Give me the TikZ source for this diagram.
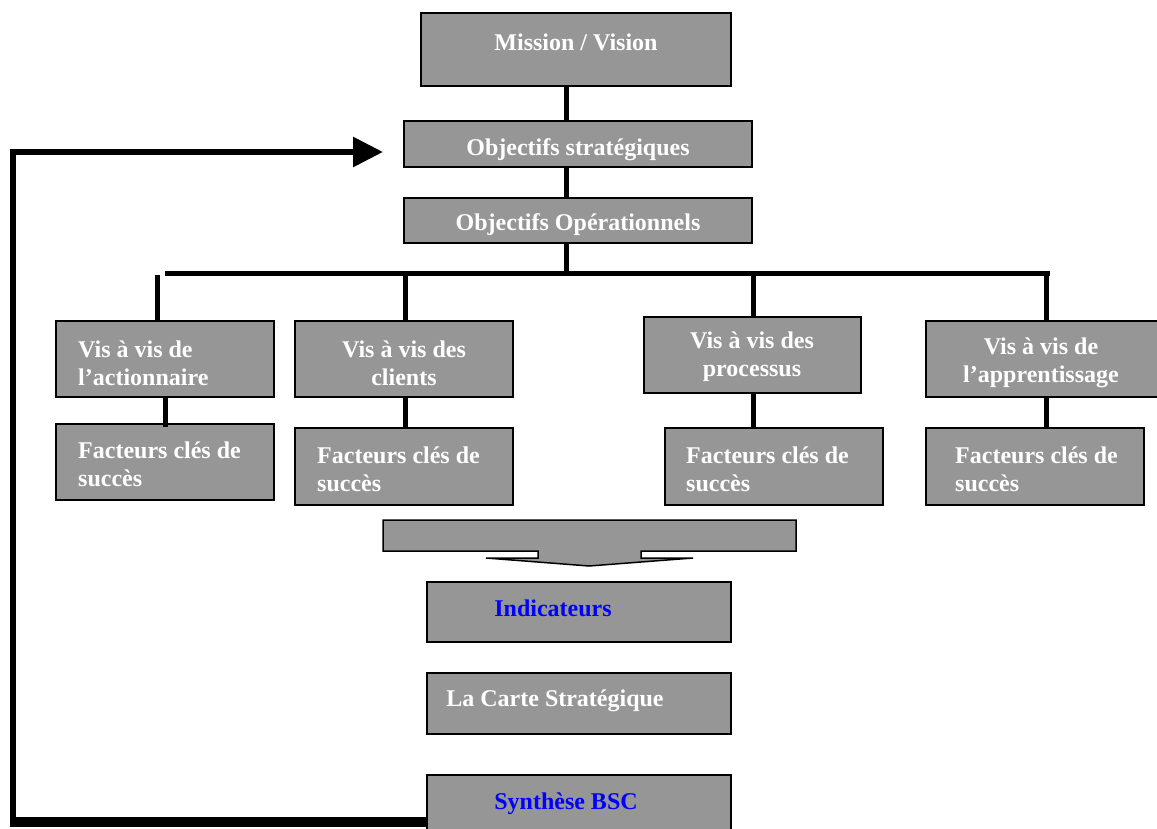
\documentclass[tikz,border=0pt]{standalone}
\usepackage{fontspec}
\setmainfont{Liberation Serif}
\usetikzlibrary{fit,arrows.meta}
\definecolor{boxgray}{HTML}{969696}
\definecolor{txtblue}{HTML}{0000FF}
\begin{document}
\begin{tikzpicture}[x=1pt,y=-1pt,
  box/.style={draw=black, line width=1.5pt, fill=boxgray, inner sep=0pt},
  lbl/.style={text=white, font=\bfseries\fontsize{24}{28}\selectfont, inner sep=0pt},
  blbl/.style={lbl, text=txtblue},
  conn/.style={line width=5pt},
  fb/.style={line width=6pt}]
\useasboundingbox (0,0) rectangle (1157,829);
% boxes
\node[box, fit={(421,13) (731,86)}] (mv) {};
\node[box, fit={(404,121) (752,167)}] (os) {};
\node[box, fit={(404,198) (752,243)}] (oo) {};
\node[box, fit={(56,321) (274,397)}] (v1) {};
\node[box, fit={(295,321) (513,397)}] (v2) {};
\node[box, fit={(644,317) (861,393)}] (v3) {};
\node[box, fit={(926,321) (1165,397)}] (v4) {};
\node[box, fit={(56,424) (274,500)}] (f1) {};
\node[box, fit={(295,428) (513,505)}] (f2) {};
\node[box, fit={(665,428) (883,505)}] (f3) {};
\node[box, fit={(926,428) (1144,505)}] (f4) {};
\node[box, fit={(427,582) (731,642)}] (ind) {};
\node[box, fit={(427,673) (731,734)}] (carte) {};
\node[box, fit={(427,775) (731,840)}] (syn) {};
% big down arrow
\draw[line width=1.5pt, fill=boxgray] (383,520) -- (796,520) -- (796,551) -- (641,551) -- (641,558) -- (693,558) -- (589,566) -- (486,558) -- (538,558) -- (538,551) -- (383,551) -- cycle;
% texts
\node[lbl] (tmv) at (576,42) {Mission / Vision};
\node[lbl] (tos) at (578,150) {Objectifs stratégiques};
\node[lbl] (too) at (578,225) {Objectifs Opérationnels};
\node[lbl, anchor=west, align=left] (tv1) at (78,363) {Vis à vis de\\l’actionnaire};
\node[lbl, align=center] (tv2) at (404,363) {Vis à vis des\\clients};
\node[lbl, align=center] (tv3) at (752,357) {Vis à vis des\\processus};
\node[lbl, align=center] (tv4) at (1041,363) {Vis à vis de\\l’apprentissage};
\node[lbl, anchor=west, align=left] (tf1) at (78,464) {Facteurs clés de\\succès};
\node[lbl, anchor=west, align=left] (tf2) at (317,469) {Facteurs clés de\\succès};
\node[lbl, anchor=west, align=left] (tf3) at (686,469) {Facteurs clés de\\succès};
\node[lbl, anchor=west, align=left] (tf4) at (955,469) {Facteurs clés de\\succès};
\node[blbl] (tind) at (553,608) {Indicateurs};
\node[lbl] (tcarte) at (555,701) {La Carte Stratégique};
\node[blbl] (tsyn) at (566,804) {Synthèse BSC};
% connectors
\coordinate (cx) at (566,0);
\draw[conn] (mv.south -| cx) -- (os.north -| cx);
\draw[conn] (os.south -| cx) -- (oo.north -| cx);
\coordinate (busL) at (165,274);
\coordinate (busR) at (1050,274);
\coordinate (busM) at (566,276);
\draw[conn] (oo.south -| cx) -- (busM);
\draw[conn] (busL) -- (busR);
\coordinate (b1) at (157,275);
\coordinate (b2) at (405,274);
\coordinate (b3) at (753,274);
\coordinate (b4) at (1046,274);
\draw[conn] (b1) -- (v1.north -| b1);
\draw[conn] (b2) -- (v2.north -| b2);
\draw[conn] (b3) -- (v3.north -| b3);
\draw[conn] (b4) -- (v4.north -| b4);
\coordinate (d1) at (165,0);
\draw[conn] (v1.south -| d1) -- ([yshift=-4pt]f1.north -| d1);
\draw[conn] (v2.south -| b2) -- (f2.north -| b2);
\draw[conn] (v3.south -| b3) -- (f3.north -| b3);
\draw[conn] (v4.south -| b4) -- (f4.north -| b4);
% feedback loop
\coordinate (fbA) at (427,822);
\coordinate (fbB) at (13,822);
\coordinate (fbC) at (13,152);
\coordinate (fbT) at (383,152);
\draw[line width=10pt] (syn.west |- fbA) -- ([xshift=-3pt]fbB);
\draw[fb, -{Triangle[length=30pt,width=29pt]}] (fbB) -- (fbC) -- (fbT);
\end{tikzpicture}
\end{document}
